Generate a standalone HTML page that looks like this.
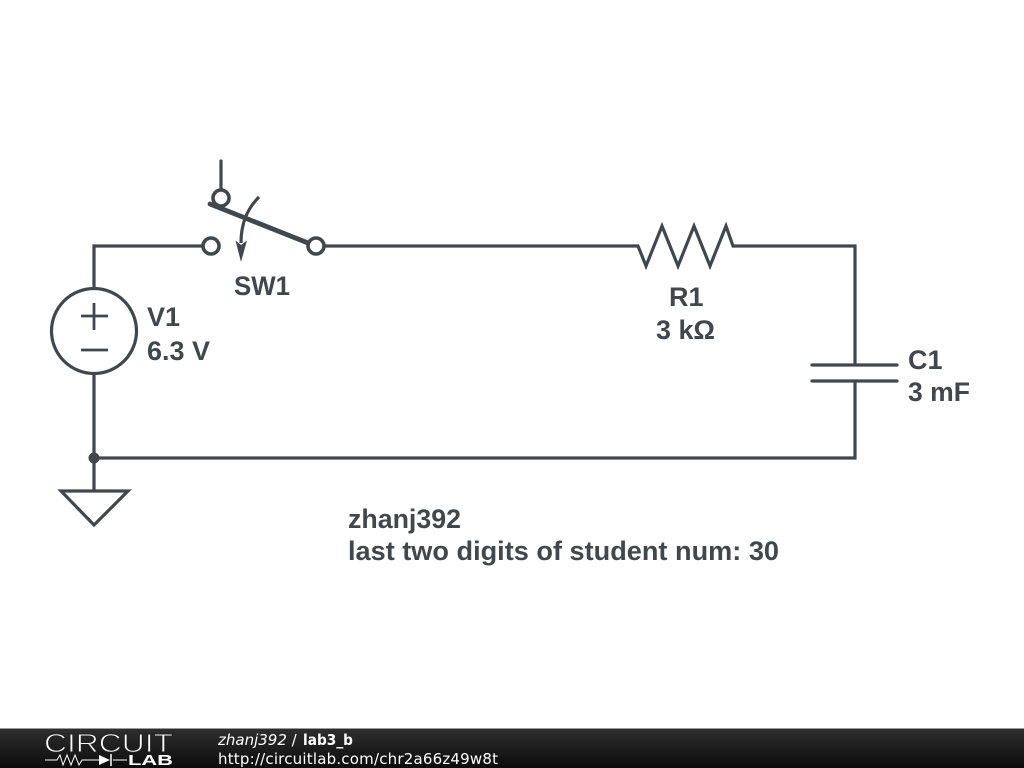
<!DOCTYPE html>
<html>
<head>
<meta charset="utf-8">
<style>
html,body{margin:0;padding:0;background:#fff;width:1024px;height:768px;overflow:hidden}
svg{display:block}
.l{font-family:"Liberation Sans",sans-serif;font-weight:bold;font-size:27px;fill:#40484d}
.f{font-family:"DejaVu Sans",sans-serif;font-size:15px;fill:#fff}
</style>
</head>
<body>
<svg width="1024" height="768" viewBox="0 0 1024 768" xmlns="http://www.w3.org/2000/svg">
<defs>
<linearGradient id="g" x1="0" y1="0" x2="0" y2="1">
<stop offset="0" stop-color="#2e2e2e"/><stop offset="1" stop-color="#0c0c0c"/>
</linearGradient>
</defs>
<rect width="1024" height="768" fill="#fff"/>
<g fill="none" stroke="#40484d" stroke-width="3.2" stroke-linejoin="miter">
<path d="M94 288V246H203"/>
<path d="M324 246H638L646 266L662 226L678 266L694 226L710 266L726 226L733 246H855V365"/>
<path d="M855 381V458H94"/>
<path d="M94 374V491"/>
<circle cx="94" cy="331" r="42.500" fill="#fff"/>
<path d="M81 316H108M94 303V330M81 350H108" stroke-width="2.800"/>
<path d="M61 491H128L94 525Z"/>
<path d="M812 365H897M812 381H897" stroke-linecap="round"/>
<path d="M221 161V190" stroke-linecap="round"/>
<path d="M210 204L308 243" stroke-width="4.800" stroke-linecap="round"/>
<path d="M259 197C248 208 241 222 241 243"/>
<circle cx="211" cy="246" r="8" fill="#fff" stroke-width="3.600"/>
<circle cx="316" cy="246" r="8" fill="#fff" stroke-width="3.600"/>
<circle cx="221" cy="198" r="8" stroke-width="3.600"/>
</g>
<path d="M241 262L235.500 240.500L241 245L247 240.500Z" fill="#40484d"/>
<circle cx="94" cy="458" r="5.500" fill="#40484d"/>

<text class="l" x="234" y="295" textLength="56" lengthAdjust="spacingAndGlyphs">SW1</text>
<text class="l" x="147" y="326">V1</text>
<text class="l" x="147" y="360" textLength="63" lengthAdjust="spacingAndGlyphs">6.3 V</text>
<text class="l" x="669" y="306">R1</text>
<text class="l" x="656" y="339" textLength="59" lengthAdjust="spacingAndGlyphs">3 kΩ</text>
<text class="l" x="908" y="369">C1</text>
<text class="l" x="908" y="401" textLength="62" lengthAdjust="spacingAndGlyphs">3 mF</text>
<text class="l" x="348" y="528" textLength="113" lengthAdjust="spacingAndGlyphs">zhanj392</text>
<text class="l" x="348" y="560" textLength="431" lengthAdjust="spacingAndGlyphs">last two digits of student num: 30</text>

<rect y="728" width="1024" height="1" fill="#9a9a9a"/>
<rect y="729" width="1024" height="39" fill="url(#g)"/>
<text x="44" y="752" font-family="Liberation Sans,sans-serif" font-size="26" fill="#fff" stroke="#1e1e1e" stroke-width="0.900" textLength="129" lengthAdjust="spacingAndGlyphs">CIRCUIT</text>
<text x="128" y="765" font-family="Liberation Sans,sans-serif" font-size="14.500" font-weight="bold" fill="#fff" textLength="45" lengthAdjust="spacingAndGlyphs">LAB</text>
<path d="M45 760H57L60 755L63 765L67 755L71 765L75 755L79 765L82 760H99M113 760H127" fill="none" stroke="#fff" stroke-width="1"/>
<path d="M99 755V765L110 760Z" fill="#fff"/>
<path d="M111 754V766" stroke="#fff" stroke-width="1.500"/>
<text class="f" x="218" y="745"><tspan font-style="italic">zhanj392</tspan> /</text>
<text class="f" x="303" y="745" font-weight="bold" textLength="50" lengthAdjust="spacingAndGlyphs">lab3_b</text>
<text class="f" x="218" y="764" textLength="280">http://circuitlab.com/chr2a66z49w8t</text>
</svg>
</body>
</html>
